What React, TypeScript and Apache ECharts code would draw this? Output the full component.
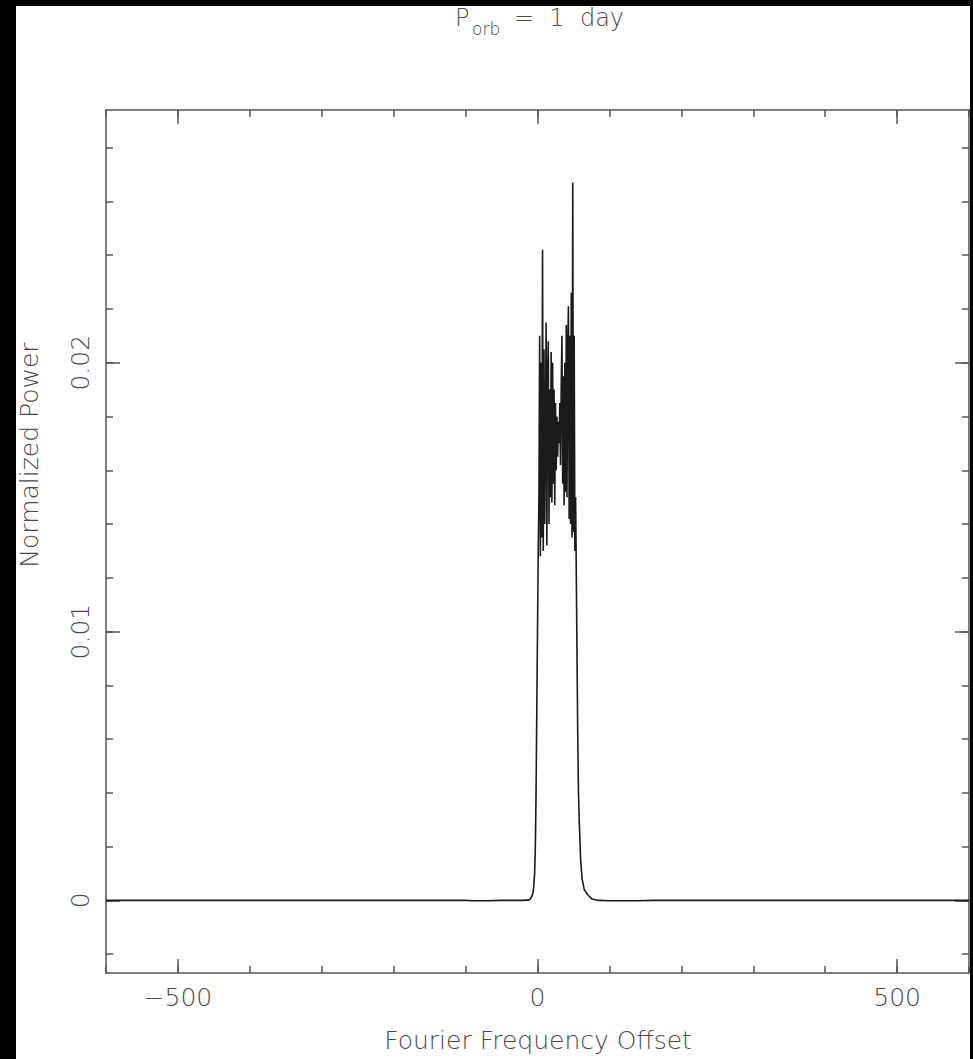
import React, { useEffect, useRef } from "react";
import * as echarts from "echarts";

// Spectrum: Fourier frequency offset vs normalized power
const freqOffset: number[] = [
  -600, -300, -120, -100, -90, -80, -70, -50, -20, -12, -10, -8, -6, -5, -4, -3, -2, -1, 0, 1,
  2, 3, 4, 5, 6, 7, 8, 9, 10, 11, 12, 13, 14, 15, 16, 17, 18, 19, 20, 21, 22, 23, 24, 25, 26, 27,
  28, 29, 30, 31, 32, 33, 34, 35, 36, 37, 38, 39, 40, 41, 42, 43, 44, 45, 46, 47, 48, 49, 50, 51,
  52, 53, 54, 55, 56, 57, 58, 60, 62, 65, 70, 76, 85, 100, 120, 140, 160, 300, 600,
];
const normPower: number[] = [
  0, 0, 0, 0, -0.00001, -0.00001, -0.00001, 0, 0, 0.00002, 0.00005, 0.00015, 0.0003, 0.0006, 0.001, 0.002, 0.004, 0.007, 0.010, 0.013,
  0.0150, 0.0210, 0.0128, 0.0200, 0.0135, 0.0242, 0.0130, 0.0205, 0.0140, 0.0175, 0.0215, 0.0132, 0.0195, 0.0208, 0.0140, 0.0190, 0.0150, 0.0204, 0.0148, 0.0200, 0.0155, 0.0190, 0.0147, 0.0185, 0.0160, 0.0180,
  0.0165, 0.0178, 0.0170, 0.0185, 0.0162, 0.0192, 0.0210, 0.0155, 0.0195, 0.0147, 0.0200, 0.0152, 0.0214, 0.0150, 0.0205, 0.0221, 0.0142, 0.0210, 0.0140, 0.0226, 0.0135, 0.0267, 0.0137, 0.0210,
  0.0130, 0.0150, 0.0120, 0.0090, 0.0060, 0.0040, 0.0030, 0.0015, 0.0008, 0.0004, 0.0002, 0.00005, 0, -0.00001, -0.00001, -0.00001, 0, 0, 0,
];

const xMajorTicks: number[] = [-500, 0, 500];
const xMinorTicks: number[] = [-600, -500, -400, -300, -200, -100, 0, 100, 200, 300, 400, 500, 600];
const yMajorTicks: number[] = [0, 0.01, 0.02];
const yMinorTicks: number[] = [
  -0.002, 0, 0.002, 0.004, 0.006, 0.008, 0.01, 0.012, 0.014, 0.016, 0.018, 0.02, 0.022, 0.024, 0.026, 0.028,
];

const X_MIN = -600;
const X_MAX = 600;
const Y_MIN = -0.0027;
const Y_MAX = 0.0294;

const AXIS_COLOR = "#555";
const TEXT_COLOR = "#4a4a4a";
const FONT = "DejaVu Sans";
const FONT_WEIGHT = 200;

export default function App() {
  const ref = useRef<HTMLDivElement>(null);

  useEffect(() => {
    if (!ref.current) return;
    const chart = echarts.init(ref.current, undefined, { renderer: "svg" });

    const fmtX = (v: number) => (v < 0 ? "\u2212" + Math.abs(v) : String(v));
    const fmtY = (v: number) => (v === 0 ? "0" : String(Number(v.toFixed(3))));

    const xAxisBase = (position: "top" | "bottom", major: boolean, label: boolean, line: boolean) => ({
      type: "value",
      min: X_MIN,
      max: X_MAX,
      position,
      ...(major ? {} : { interval: 100 }),
      axisLine: { show: line, onZero: false, lineStyle: { color: AXIS_COLOR, width: 1.5 } },
      axisTick: {
        show: true,
        inside: true,
        length: major ? 14 : 7,
        customValues: major ? xMajorTicks : xMinorTicks,
        lineStyle: { color: AXIS_COLOR, width: 1.5 },
      },
      axisLabel: {
        show: label,
        customValues: xMajorTicks,
        formatter: fmtX,
        fontFamily: FONT,
        fontWeight: FONT_WEIGHT,
        fontSize: 25,
        color: TEXT_COLOR,
        margin: 12,
      },
      splitLine: { show: false },
    });

    const yAxisBase = (position: "left" | "right", major: boolean, label: boolean, line: boolean) => ({
      type: "value",
      min: Y_MIN,
      max: Y_MAX,
      position,
      axisLine: { show: line, onZero: false, lineStyle: { color: AXIS_COLOR, width: 1.5 } },
      axisTick: {
        show: true,
        inside: true,
        length: major ? 14 : 7,
        customValues: major ? yMajorTicks : yMinorTicks,
        lineStyle: { color: AXIS_COLOR, width: 1.5 },
      },
      axisLabel: {
        show: label,
        customValues: yMajorTicks,
        formatter: fmtY,
        rotate: 90,
        fontFamily: FONT,
        fontWeight: FONT_WEIGHT,
        fontSize: 25,
        color: TEXT_COLOR,
        margin: 13,
      },
      splitLine: { show: false },
    });

    const data = freqOffset.map((x, i) => [x, normPower[i]]);

    const titleText = (text: string, x: number, y: number, size: number) => ({
      type: "text",
      x,
      y,
      z: 50,
      style: {
        text,
        fontFamily: FONT,
        fontWeight: FONT_WEIGHT,
        fontSize: size,
        fill: TEXT_COLOR,
        align: "left",
        verticalAlign: "top",
      },
    });

    chart.setOption({
      animation: false,
      backgroundColor: "#ffffff",
      grid: { left: 106, right: 4, top: 110, bottom: 86, containLabel: false },
      xAxis: [
        xAxisBase("bottom", true, true, true),
        xAxisBase("bottom", false, false, false),
        xAxisBase("top", true, false, true),
        xAxisBase("top", false, false, false),
      ],
      yAxis: [
        yAxisBase("left", true, true, true),
        yAxisBase("left", false, false, false),
        yAxisBase("right", true, false, true),
        yAxisBase("right", false, false, false),
      ],
      series: [
        {
          type: "line",
          xAxisIndex: 0,
          yAxisIndex: 0,
          data,
          showSymbol: false,
          symbol: "none",
          lineStyle: { color: "#1a1a1a", width: 1.6 },
          z: 5,
        },
      ],
      graphic: [
        { type: "rect", shape: { x: 0, y: 0, width: 16, height: 1059 }, style: { fill: "#000" }, z: 100 },
        { type: "rect", shape: { x: 0, y: 0, width: 973, height: 6 }, style: { fill: "#000" }, z: 100 },
        { type: "rect", shape: { x: 970, y: 0, width: 3, height: 1059 }, style: { fill: "#000" }, z: 100 },
        {
          type: "group",
          children: [
            titleText("P", 455, 6, 24),
            titleText("orb", 472, 20, 17),
            titleText("=  1  day", 514, 6, 24),
          ],
        },
        {
          type: "text",
          x: 538,
          y: 1040,
          z: 50,
          style: {
            text: "Fourier Frequency Offset",
            fontFamily: FONT,
            fontWeight: FONT_WEIGHT,
            fontSize: 25,
            fill: TEXT_COLOR,
            align: "center",
            verticalAlign: "middle",
          },
        },
        {
          type: "text",
          x: 29,
          y: 455,
          rotation: Math.PI / 2,
          z: 50,
          style: {
            text: "Normalized Power",
            fontFamily: FONT,
            fontWeight: FONT_WEIGHT,
            fontSize: 25,
            fill: TEXT_COLOR,
            align: "center",
            verticalAlign: "middle",
          },
        },
      ],
    });

    return () => chart.dispose();
  }, []);

  return (
    <div
      ref={ref}
      style={{ position: "fixed", left: 0, top: 0, width: 973, height: 1059, background: "#fff" }}
    />
  );
}
